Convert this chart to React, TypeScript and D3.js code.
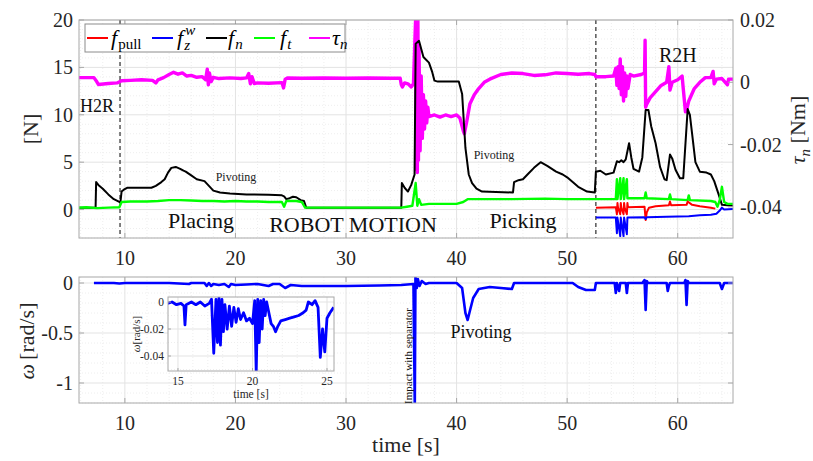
import React from "react";
import * as d3 from "d3";

type P = [number, number];

const xTicks = [10, 20, 30, 40, 50, 60];
const yLeftTicks = [0, 5, 10, 15, 20];
const yRightTicks = [-0.04, -0.02, 0, 0.02];
const yRightLabels = ["-0.04", "-0.02", "0", "0.02"];
const yBotTicks = [-1, -0.5, 0];
const yBotLabels = ["-1", "-0.5", "0"];
const insetXTicks = [15, 20, 25];
const insetYTicks = [-0.04, -0.02, 0];
const insetYLabels = ["-0.04", "-0.02", "0"];
const phaseLines = [9.56, 52.6];

const tauN: P[] = [
  [5.85, 0.0015], [7.2, 0.0015], [7.4, 0.0005], [7.6, -0.0007], [8.5, -0.0004], [9.3, -0.0002], [9.7, 0.0005],
  [10.5, 0.0006], [11.5, 0.0008], [12.5, 0.0006], [12.8, -0.0002], [13.0, 0.0008], [13.5, 0.0015], [14.0, 0.0025],
  [14.4, 0.0032], [14.8, 0.0026], [15.2, 0.003], [15.6, 0.002], [16.0, 0.0022], [16.5, 0.0016], [17.0, 0.0018],
  [17.3, 0.0008], [17.45, 0.0042], [17.55, -0.0008], [17.65, 0.003], [17.8, 0.0002], [18.0, 0.0016], [18.5, 0.0012],
  [19.5, 0.0014], [20.5, 0.0012], [21.0, 0.0014], [21.2, 0.0028], [21.35, -0.0005], [21.5, 0.0018], [21.7, -0.0004],
  [22.0, -0.0002], [23, -0.0003], [24.2, -0.0001], [24.35, -0.0018], [24.5, 0.001], [24.7, 0.0014], [26, 0.0013],
  [28, 0.0014], [30, 0.0013], [32, 0.0014], [34, 0.0013], [34.9, 0.0013], [35.0, -0.0008], [35.1, -0.0015],
  [35.3, -0.0002], [35.6, -0.0005], [35.9, -0.0015], [36.1, -0.0005], [36.3, 0.021], [36.35, -0.028], [36.4, 0.021],
  [36.45, -0.029], [36.5, 0.021], [36.55, -0.025], [36.6, 0.012], [36.7, -0.022], [36.8, 0.002], [36.9, -0.018],
  [37.0, -0.004], [37.1, -0.015], [37.2, -0.006], [37.3, -0.013], [37.4, -0.008], [37.5, -0.011], [38.0, -0.0105],
  [38.5, -0.0112], [39.0, -0.0105], [39.5, -0.011], [40.0, -0.0105], [40.3, -0.0115], [40.6, -0.0155], [40.7, -0.0165],
  [40.9, -0.013], [41.2, -0.007], [41.6, -0.004], [42.0, -0.002], [42.5, 0.0], [43.0, 0.001], [44.0, 0.0025],
  [45.0, 0.003], [46, 0.0028], [47, 0.0022], [48, 0.0024], [49, 0.003], [50, 0.0028], [51, 0.0026], [52, 0.0028],
  [52.5, 0.0025], [52.6, 0.0018], [53.5, 0.0018], [54.2, 0.002], [54.4, 0.0045], [54.5, -0.001], [54.6, 0.005],
  [54.7, -0.002], [54.8, 0.0075], [54.9, -0.004], [55.0, 0.005], [55.1, -0.006], [55.2, 0.003], [55.3, -0.0045],
  [55.4, 0.002], [55.5, -0.002], [55.7, 0.0025], [56.0, 0.002], [56.7, 0.0025], [57.0, 0.003], [57.05, 0.0135],
  [57.1, -0.008], [57.2, -0.007], [57.5, -0.005], [58.0, -0.003], [58.5, -0.001], [59.0, 0.0], [59.2, 0.005],
  [59.3, -0.0025], [59.5, 0.0], [60.0, 0.0008], [60.4, 0.002], [60.5, -0.002], [60.7, -0.0095], [60.8, -0.009],
  [61.0, -0.006], [61.5, -0.002], [62.0, 0.0], [62.5, 0.0015], [63.0, 0.0015], [63.2, 0.0035], [63.3, -0.0005],
  [63.5, 0.001], [64.0, 0.0012], [64.5, -0.0008], [64.6, 0.001], [65, 0.001],
];

const fN: P[] = [
  [5.85, 0.2], [7.35, 0.2], [7.4, 2.9], [7.6, 2.6], [8.0, 2.2], [8.5, 1.6], [9.0, 1.1], [9.5, 0.8], [9.6, 0.8],
  [9.7, 1.9], [9.9, 2.1], [10.2, 2.3], [12.4, 2.3], [12.8, 2.5], [13.3, 2.9], [13.6, 3.2], [13.9, 3.9], [14.2, 4.4],
  [14.6, 4.5], [15.0, 4.3], [15.3, 4.1], [15.5, 4.0], [16.0, 3.6], [16.5, 3.2], [17.2, 3.0], [17.6, 2.5], [18.0, 2.0],
  [18.6, 1.8], [19.5, 1.7], [21, 1.6], [23, 1.55], [24.2, 1.5], [24.4, 1.4], [24.6, 1.1], [24.9, 1.2], [25.2, 1.35],
  [25.5, 1.3], [25.9, 1.0], [26.2, 0.9], [26.4, 0.2], [35.0, 0.2], [35.05, 2.8], [35.3, 2.3], [35.6, 1.9], [35.9, 2.6],
  [36.2, 3.7], [36.3, 17.5], [36.6, 17.8], [37.0, 16.1], [37.5, 15.5], [37.8, 14.5], [38.0, 13.6], [38.3, 13.5],
  [40.2, 13.5], [40.5, 12.2], [40.8, 6.5], [41.1, 3.7], [41.4, 2.8], [41.8, 2.2], [42.3, 1.9], [45.1, 1.8], [45.2, 2.9],
  [45.6, 3.1], [46.0, 3.2], [46.5, 3.8], [47.0, 4.4], [47.6, 5.0], [48.2, 4.6], [49.0, 4.0], [49.6, 3.7], [50.0, 3.4],
  [50.5, 2.9], [51.0, 2.4], [51.8, 1.9], [52.5, 1.8], [52.6, 4.0], [53.0, 4.1], [53.5, 3.7], [54.2, 3.9], [54.5, 5.1],
  [54.7, 5.0], [54.9, 5.2], [55.1, 5.0], [55.3, 5.3], [55.6, 7.0], [55.8, 5.5], [56.0, 4.3], [56.5, 4.0], [56.8, 5.5],
  [57.1, 10.5], [57.35, 10.5], [57.6, 8.8], [58.0, 7.0], [58.4, 4.5], [58.8, 3.2], [59.0, 3.1], [59.3, 5.8],
  [59.5, 5.4], [59.8, 4.2], [60.2, 3.3], [60.5, 3.3], [60.9, 10.6], [61.1, 10.0], [61.3, 8.0], [61.6, 5.0], [62.0, 4.0],
  [62.6, 3.9], [63.0, 3.7], [63.3, 3.0], [63.7, 1.6], [64.0, 0.5], [65, 0.4],
];

const fT: P[] = [
  [5.85, 0.2], [6.5, 0.25], [7.5, 0.15], [8.5, 0.2], [9.5, 0.25], [9.7, 0.8], [10.5, 0.85], [12, 0.85], [13, 0.9],
  [14, 1.0], [15, 1.0], [16, 0.95], [17, 0.9], [18, 0.9], [19, 0.85], [20, 0.9], [21, 0.85], [22, 0.85], [23, 0.8],
  [24.2, 0.8], [24.4, 0.3], [24.6, 0.9], [25.5, 0.9], [26, 0.8], [26.3, 0.2], [30, 0.2], [35, 0.2], [35.5, 0.3],
  [36.0, 0.4], [36.3, 2.8], [36.45, 0.4], [36.6, 1.1], [36.8, 0.5], [37.5, 0.6], [38.5, 0.6], [40, 0.6], [40.6, 0.8],
  [41, 1.1], [45, 1.1], [48, 1.15], [50, 1.1], [52.6, 1.1], [53, 1.1], [54.4, 1.1], [54.5, 3.2], [54.55, 1.1],
  [54.8, 3.3], [54.85, 1.1], [55.1, 3.3], [55.15, 1.1], [55.4, 3.2], [55.45, 1.2], [56, 1.2], [57.0, 1.2], [57.1, 1.8],
  [57.2, 1.2], [59.2, 1.1], [59.3, 1.6], [59.4, 1.1], [60.9, 1.0], [61.0, 1.5], [61.1, 1.0], [63, 0.9], [63.4, 0.8],
  [63.6, 0.3], [63.8, 1.0], [64.0, 2.4], [64.2, 0.8], [64.5, 0.6], [65, 0.6],
];

const fPull: P[] = [
  [52.6, 0.2], [54.4, 0.25], [54.5, -0.5], [54.55, 0.7], [54.6, 0.2], [54.8, -0.5], [54.85, 0.7], [54.9, 0.2],
  [55.1, -0.5], [55.15, 0.7], [55.2, 0.2], [55.4, -0.5], [55.45, 0.7], [55.5, 0.25], [57.0, 0.3], [57.1, -1.1],
  [57.2, -0.3], [57.4, 0.2], [58, 0.35], [59.2, 0.45], [59.3, 0.85], [59.4, 0.45], [60.8, 0.5], [60.9, 0.85],
  [61.3, 0.5], [62, 0.35], [63, 0.2], [63.4, 0.1],
];

const fZw: P[] = [
  [52.6, -0.85], [54.4, -0.85], [54.5, -2.5], [54.55, -0.85], [54.8, -2.8], [54.85, -0.85], [55.1, -2.8],
  [55.15, -0.85], [55.4, -2.6], [55.45, -0.85], [57.0, -0.8], [57.1, -1.0], [57.2, -0.8], [59, -0.75], [61, -0.7],
  [62, -0.6], [63, -0.55], [63.5, -0.45], [63.8, -0.1], [64, 0.2], [64.2, 0.0], [65, 0.05],
];

const omega: P[] = [
  [7.2, 0], [9, 0], [9.5, -0.005], [10, 0], [14, 0], [15.8, -0.01], [16, 0], [17.2, 0], [17.4, -0.03], [17.6, 0],
  [17.8, -0.03], [18, -0.01], [18.5, -0.02], [19, -0.01], [19.4, -0.04], [19.6, -0.01], [20, -0.02], [21, -0.015],
  [22, -0.01], [22.5, -0.02], [23, -0.03], [23.4, -0.01], [24, -0.01], [24.5, -0.05], [25, -0.02], [26, -0.03],
  [28, -0.03], [30, -0.03], [33, -0.025], [35, -0.02], [36.1, -0.01], [36.22, -1.25], [36.28, 0.06],
  [36.4, -0.05], [36.5, 0.04], [36.65, -0.03], [36.85, 0.02], [37.2, -0.01], [37.5, 0], [40, 0], [40.5, -0.05],
  [40.8, -0.3], [41.0, -0.37], [41.2, -0.28], [41.5, -0.15], [42, -0.06], [43, -0.04], [44, -0.05], [45, -0.06],
  [45.2, 0], [47, 0], [50.5, 0], [51, -0.04], [51.7, -0.07], [52.5, -0.07], [52.6, 0], [54.3, 0], [54.4, -0.1],
  [54.5, 0], [54.7, -0.08], [54.8, 0], [55.3, 0], [55.4, -0.1], [55.5, 0], [56.8, 0], [57.0, 0.03], [57.1, -0.27],
  [57.2, 0.02], [57.3, 0], [59, 0], [59.1, -0.08], [59.2, -0.03], [59.3, 0], [60.6, 0], [60.7, 0.03], [60.8, -0.22],
  [60.9, 0.02], [61, 0], [63.8, 0], [64, -0.06], [64.2, 0], [65, 0],
];

const omegaInset: P[] = [
  [14.3, -0.001], [14.6, 0.0], [14.9, -0.002], [15.2, -0.001], [15.4, -0.003], [15.47, -0.017], [15.55, -0.002],
  [15.9, 0.0], [16.2, -0.002], [16.5, 0.0], [16.8, -0.003], [17.1, -0.001], [17.25, 0.002], [17.4, -0.038],
  [17.55, 0.002], [17.65, -0.03], [17.75, 0.003], [17.85, -0.032], [17.95, 0.002], [18.05, -0.022], [18.15, -0.002],
  [18.3, -0.02], [18.45, -0.003], [18.6, -0.018], [18.75, -0.004], [18.9, -0.015], [19.05, -0.005], [19.2, -0.013],
  [19.4, -0.008], [19.6, -0.014], [19.8, -0.012], [20.0, -0.016], [20.15, 0.001], [20.25, -0.052], [20.35, 0.002],
  [20.45, -0.03], [20.55, 0.001], [20.65, -0.02], [20.75, 0.002], [20.85, -0.01], [20.95, 0.0], [21.1, -0.008],
  [21.25, -0.016], [21.4, -0.018], [21.55, -0.022], [21.7, -0.018], [21.9, -0.014], [22.2, -0.013], [22.5, -0.012],
  [22.8, -0.011], [23.1, -0.01], [23.4, -0.008], [23.6, -0.006], [23.75, 0.0], [24.0, -0.002], [24.2, 0.001],
  [24.4, -0.004], [24.55, -0.041], [24.7, -0.02], [24.85, -0.037], [25.0, -0.012], [25.2, -0.008], [25.45, -0.004],
];

const FONT = "'Liberation Serif', 'DejaVu Serif', serif";
const GRID = "#e3e3e3";
const MINOR = "#eeeeee";
const AXIS = "#a8a8a8";
const TXT = "#262626";

export default function App() {
  const L = 79, R = 733;
  const x = d3.scaleLinear().domain([5.85, 65]).range([L, R]);
  const yL = d3.scaleLinear().domain([-3, 20]).range([238, 20]);
  const yR = d3.scaleLinear().domain([-0.05, 0.02]).range([238, 20]);
  const yB = d3.scaleLinear().domain([-1.2, 0.06]).range([403, 277]);
  const xI = d3.scaleLinear().domain([14.33, 25.47]).range([168, 334]);
  const yI = d3.scaleLinear().domain([-0.0511, 0.0037]).range([371, 297]);

  const lineL = d3.line<P>().x((d) => x(d[0])).y((d) => yL(d[1]));
  const lineR = d3.line<P>().x((d) => x(d[0])).y((d) => yR(d[1]));
  const lineB = d3.line<P>().x((d) => x(d[0])).y((d) => yB(d[1]));
  const lineI = d3.line<P>().x((d) => xI(d[0])).y((d) => yI(d[1]));

  const xMinor = d3.range(6, 65, 2).filter((v) => v % 10 !== 0);
  const yMinorTop = d3.range(-3, 20, 1).filter((v) => v % 5 !== 0);
  const yMinorBot = d3.range(-1.2, 0.06, 0.1).map((v) => Math.round(v * 10) / 10).filter((v) => Math.abs(v * 2 - Math.round(v * 2)) > 1e-6);
  const xMinorI = d3.range(15, 26, 1).filter((v) => v % 5 !== 0);
  const yMinorI = [-0.05, -0.03, -0.01];

  const legend = [
    { c: "#ff0000", x: 87 },
    { c: "#0000ff", x: 152 },
    { c: "#000000", x: 206 },
    { c: "#00ff00", x: 254 },
    { c: "#ff00ff", x: 309 },
  ];

  return (
    <svg width={813} height={461} style={{ position: "absolute", left: 0, top: 0, background: "#fff" }} fontFamily={FONT}>
      <defs>
        <clipPath id="cTop"><rect x={L} y={20} width={R - L} height={218} /></clipPath>
        <clipPath id="cBot"><rect x={L} y={277} width={R - L} height={126} /></clipPath>
        <clipPath id="cIn"><rect x={168} y={297} width={166} height={74} /></clipPath>
      </defs>

      {/* ---------- TOP PANEL ---------- */}
      <g>
        {xMinor.map((v) => <line key={"xm" + v} x1={x(v)} x2={x(v)} y1={20} y2={238} stroke={MINOR} strokeDasharray="1,2" />)}
        {yMinorTop.map((v) => <line key={"ym" + v} x1={L} x2={R} y1={yL(v)} y2={yL(v)} stroke={MINOR} strokeDasharray="1,2" />)}
        {xTicks.map((v) => <line key={"xg" + v} x1={x(v)} x2={x(v)} y1={20} y2={238} stroke={GRID} />)}
        {yLeftTicks.map((v) => <line key={"yg" + v} x1={L} x2={R} y1={yL(v)} y2={yL(v)} stroke={GRID} />)}

        {phaseLines.map((v) => <line key={"ph" + v} x1={x(v)} x2={x(v)} y1={20} y2={238} stroke="#000" strokeDasharray="4,3" strokeWidth={1} />)}

        <g clipPath="url(#cTop)" fill="none" strokeLinejoin="round">
          <path d={lineR(tauN) || ""} stroke="#ff00ff" strokeWidth={3.4} />
          <path d={lineL(fN) || ""} stroke="#000000" strokeWidth={2} />
          <path d={lineL(fT) || ""} stroke="#00ff00" strokeWidth={2.4} />
          <path d={lineL(fPull) || ""} stroke="#ff0000" strokeWidth={2} />
          <path d={lineL(fZw) || ""} stroke="#0000ff" strokeWidth={2} />
        </g>

        <rect x={L} y={20} width={R - L} height={218} fill="none" stroke={AXIS} />
        {xTicks.map((v) => (
          <g key={"xt" + v}>
            <line x1={x(v)} x2={x(v)} y1={238} y2={233} stroke={AXIS} />
            <line x1={x(v)} x2={x(v)} y1={20} y2={25} stroke={AXIS} />
            <text x={x(v)} y={265} textAnchor="middle" fontSize={20} fill={TXT}>{v}</text>
          </g>
        ))}
        {yLeftTicks.map((v) => (
          <g key={"yt" + v}>
            <line x1={L} x2={L + 5} y1={yL(v)} y2={yL(v)} stroke={AXIS} />
            <text x={73} y={yL(v) + 7} textAnchor="end" fontSize={20} fill={TXT}>{v}</text>
          </g>
        ))}
        {yRightTicks.map((v, i) => (
          <g key={"yr" + v}>
            <line x1={R} x2={R - 5} y1={yR(v)} y2={yR(v)} stroke={AXIS} />
            <text x={740} y={yR(v) + 7} textAnchor="start" fontSize={20} fill={TXT}>{yRightLabels[i]}</text>
          </g>
        ))}
        <text transform="translate(38,129) rotate(-90)" textAnchor="middle" fontSize={22} fill={TXT}>[N]</text>
        <text transform="translate(805,130) rotate(-90)" textAnchor="middle" fontSize={22} fill={TXT}>
          <tspan fontStyle="italic">τ</tspan><tspan fontStyle="italic" fontSize={15} dy={5}>n</tspan><tspan dy={-5}> [Nm]</tspan>
        </text>

        {/* legend */}
        <rect x={85} y={24} width={260} height={28} fill="#fff" stroke="#8c8c8c" strokeWidth={1} />
        {legend.map((l) => <line key={l.c} x1={l.x} x2={l.x + 21} y1={38} y2={38} stroke={l.c} strokeWidth={2} />)}
        <g fontSize={22} fill="#000">
          <text x={111} y={45}><tspan fontStyle="italic">f</tspan><tspan fontSize={15} dy={4} dx={1}>pull</tspan></text>
          <text x={177} y={45}><tspan fontStyle="italic">f</tspan><tspan fontStyle="italic" fontSize={15} dy={-10} dx={2}>w</tspan><tspan fontStyle="italic" fontSize={15} dy={15} dx={-11}>z</tspan></text>
          <text x={228} y={45}><tspan fontStyle="italic">f</tspan><tspan fontStyle="italic" fontSize={15} dy={4} dx={1}>n</tspan></text>
          <text x={280} y={45}><tspan fontStyle="italic">f</tspan><tspan fontStyle="italic" fontSize={15} dy={4} dx={1}>t</tspan></text>
          <text x={332} y={45}><tspan fontStyle="italic">τ</tspan><tspan fontStyle="italic" fontSize={15} dy={4}>n</tspan></text>
        </g>

        {/* annotations */}
        <text x={80} y={112} fontSize={18} fill="#111">H2R</text>
        <text x={659} y={62} fontSize={20} fill="#111">R2H</text>
        <text x={201} y={228} textAnchor="middle" fontSize={22} fill="#111">Placing</text>
        <text x={353} y={232} textAnchor="middle" fontSize={22} fill="#111">ROBOT MOTION</text>
        <text x={523} y={228} textAnchor="middle" fontSize={22} fill="#111">Picking</text>
        <text x={236} y={181} textAnchor="middle" fontSize={12} fill="#222">Pivoting</text>
        <text x={494} y={159} textAnchor="middle" fontSize={12} fill="#222">Pivoting</text>
      </g>

      {/* ---------- BOTTOM PANEL ---------- */}
      <g>
        {xMinor.map((v) => <line key={"bxm" + v} x1={x(v)} x2={x(v)} y1={277} y2={403} stroke={MINOR} strokeDasharray="1,2" />)}
        {yMinorBot.map((v) => <line key={"bym" + v} x1={L} x2={R} y1={yB(v)} y2={yB(v)} stroke={MINOR} strokeDasharray="1,2" />)}
        {xTicks.map((v) => <line key={"bxg" + v} x1={x(v)} x2={x(v)} y1={277} y2={403} stroke={GRID} />)}
        {yBotTicks.map((v) => <line key={"byg" + v} x1={L} x2={R} y1={yB(v)} y2={yB(v)} stroke={GRID} />)}

        <g clipPath="url(#cBot)" fill="none" strokeLinejoin="round">
          <path d={lineB(omega) || ""} stroke="#0000ff" strokeWidth={2.6} />
        </g>

        <rect x={L} y={277} width={R - L} height={126} fill="none" stroke={AXIS} />
        {xTicks.map((v) => (
          <g key={"bxt" + v}>
            <line x1={x(v)} x2={x(v)} y1={403} y2={398} stroke={AXIS} />
            <line x1={x(v)} x2={x(v)} y1={277} y2={282} stroke={AXIS} />
            <text x={x(v)} y={430} textAnchor="middle" fontSize={20} fill={TXT}>{v}</text>
          </g>
        ))}
        {yBotTicks.map((v, i) => (
          <g key={"byt" + v}>
            <line x1={L} x2={L + 5} y1={yB(v)} y2={yB(v)} stroke={AXIS} />
            <line x1={R} x2={R - 5} y1={yB(v)} y2={yB(v)} stroke={AXIS} />
            <text x={73} y={yB(v) + 7} textAnchor="end" fontSize={20} fill={TXT}>{yBotLabels[i]}</text>
          </g>
        ))}
        <text transform="translate(34,341) rotate(-90)" textAnchor="middle" fontSize={22} fill={TXT}>
          <tspan fontStyle="italic">ω</tspan><tspan dx={4}>[rad/s]</tspan>
        </text>
        <text x={406} y={452} textAnchor="middle" fontSize={22} fill={TXT}>time [s]</text>

        <text transform="translate(412,356) rotate(-90)" textAnchor="middle" fontSize={11} fill="#111">Impact with separator</text>
        <text x={481} y={338} textAnchor="middle" fontSize={18} fill="#111">Pivoting</text>
      </g>

      {/* ---------- INSET ---------- */}
      <g>
        <rect x={168} y={297} width={166} height={74} fill="#fff" />
        {xMinorI.map((v) => <line key={"ixm" + v} x1={xI(v)} x2={xI(v)} y1={297} y2={371} stroke={MINOR} strokeDasharray="1,2" />)}
        {yMinorI.map((v) => <line key={"iym" + v} x1={168} x2={334} y1={yI(v)} y2={yI(v)} stroke={MINOR} strokeDasharray="1,2" />)}
        {insetXTicks.map((v) => <line key={"ixg" + v} x1={xI(v)} x2={xI(v)} y1={297} y2={371} stroke={GRID} />)}
        {insetYTicks.map((v) => <line key={"iyg" + v} x1={168} x2={334} y1={yI(v)} y2={yI(v)} stroke={GRID} />)}
        <g clipPath="url(#cIn)" fill="none" strokeLinejoin="round">
          <path d={lineI(omegaInset) || ""} stroke="#0000ff" strokeWidth={2.8} />
        </g>
        <rect x={168} y={297} width={166} height={74} fill="none" stroke={AXIS} />
        {insetXTicks.map((v) => (
          <g key={"ixt" + v}>
            <line x1={xI(v)} x2={xI(v)} y1={371} y2={368} stroke={AXIS} />
            <text x={xI(v)} y={385} textAnchor="middle" fontSize={11.5} fill={TXT}>{v}</text>
          </g>
        ))}
        {insetYTicks.map((v, i) => (
          <g key={"iyt" + v}>
            <line x1={168} x2={171} y1={yI(v)} y2={yI(v)} stroke={AXIS} />
            <text x={164} y={yI(v) + 4} textAnchor="end" fontSize={11.5} fill={TXT}>{insetYLabels[i]}</text>
          </g>
        ))}
        <text transform="translate(140,334) rotate(-90)" textAnchor="middle" fontSize={11} fill={TXT}>
          <tspan fontStyle="italic">ω</tspan><tspan>[rad/s]</tspan>
        </text>
        <text x={251} y={398} textAnchor="middle" fontSize={11.5} fill={TXT}>time [s]</text>
      </g>
    </svg>
  );
}
